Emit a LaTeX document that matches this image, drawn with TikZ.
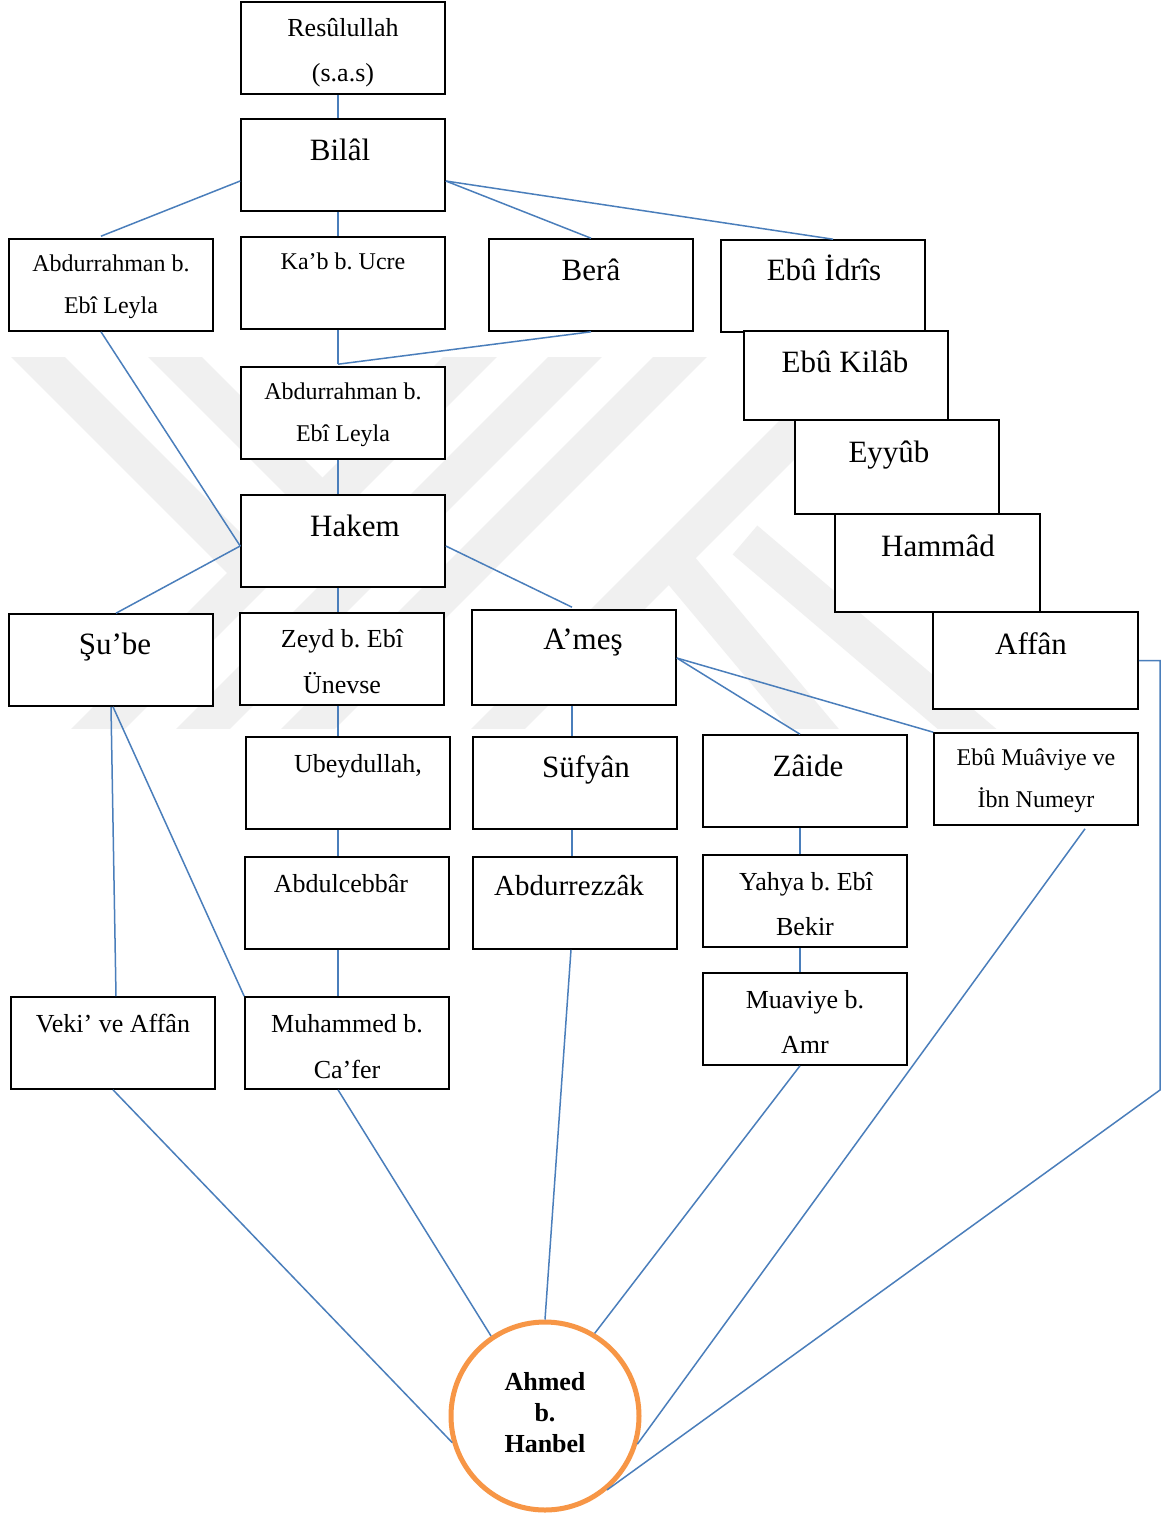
\documentclass[tikz,border=0pt]{standalone}
\usepackage{fontspec}
\setmainfont{Liberation Serif}
\frenchspacing
\definecolor{conblue}{RGB}{74,126,187}
\definecolor{ringorange}{RGB}{247,150,70}
\definecolor{wmgray}{RGB}{240,240,240}
\newcommand\fntL{\fontsize{31}{31}\selectfont}
\newcommand\fntA{\fontsize{29}{29}\selectfont}
\newcommand\fntM{\fontsize{26}{26}\selectfont}
\newcommand\fntS{\fontsize{24}{24}\selectfont}
\tikzset{
  box/.style={draw=black, fill=white, line width=1.6pt, minimum width=204pt, minimum height=92pt, inner sep=0pt},
  txt/.style={inner sep=0pt, anchor=base},
  con/.style={draw=conblue, line width=1.5pt},
  wm/.style={draw=wmgray, line width=38pt, line cap=butt},
  ring/.style={circle, draw=ringorange, fill=white, line width=5pt, minimum size=188pt, inner sep=0pt}
}
\begin{document}
\frenchspacing
\begin{tikzpicture}[x=1pt,y=-1pt]
\useasboundingbox (0,0) rectangle (1166,1515);
\fill[white] (0,0) rectangle (1166,1515);
% watermark
\begin{scope}
\clip (0,357) rectangle (1000,728);
\draw[wm] (495,332) -- (74,753);
\draw[wm] (600,332) -- (179,753);
\draw[wm] (705,332) -- (284,753);
\draw[wm] (895,332) -- (474,753);
\draw[wm] (13,332) -- (254,573);
\draw[wm] (150,332) -- (375,557);
\draw[wm] (670,557) -- (840,760);
\draw[wm] (745,540) -- (1000,757);
\end{scope}
% boxes
\node[box] (res) at (343,48) {};
\node[box] (bilal) at (343,165) {};
\node[box] (abdL) at (111,285) {};
\node[box] (kab) at (343,283) {};
\node[box] (bera) at (591,285) {};
\node[box] (idris) at (823,286) {};
\node[box, minimum height=89pt] (kilab) at (846,375.5) {};
\node[box, minimum height=94pt] (eyyub) at (897,467) {};
\node[box, minimum width=205pt, minimum height=98pt] (hammad) at (937.5,563) {};
\node[box, minimum width=205pt, minimum height=97pt] (affan) at (1035.5,660.5) {};
\node[box] (abdM) at (343,413) {};
\node[box] (hakem) at (343,541) {};
\node[box] (sube) at (111,660) {};
\node[box] (zeyd) at (342,659) {};
\node[box, minimum height=95pt] (ames) at (574,657.5) {};
\node[box] (ubey) at (348,783) {};
\node[box] (sufyan) at (575,783) {};
\node[box] (zaide) at (805,781) {};
\node[box] (ebum) at (1036,779) {};
\node[box] (abdc) at (347,903) {};
\node[box] (abdr) at (575,903) {};
\node[box] (yahya) at (805,901) {};
\node[box] (muav) at (805,1019) {};
\node[box] (veki) at (113,1043) {};
\node[box] (muh) at (347,1043) {};
\node[ring] (ahmed) at (545,1416) {};
% texts
\node[txt] (t1) at (343,36) {\fntM Resûlullah};
\node[txt] (t2) at (343,81) {\fntM (s.a.s)};
\node[txt] (t3) at (340,160) {\fntL Bilâl};
\node[txt] (t4) at (111,271) {\fntS Abdurrahman b.};
\node[txt] (t5) at (111,313) {\fntS Ebî Leyla};
\node[txt] (t6) at (343,269) {\fntS Ka’b b. Ucre};
\node[txt] (t7) at (591,280) {\fntL Berâ};
\node[txt] (t8) at (824,280) {\fntL Ebû İdrîs};
\node[txt] (t9) at (845,372) {\fntL Ebû Kilâb};
\node[txt] (t10) at (889,462) {\fntL Eyyûb};
\node[txt] (t11) at (938,556) {\fntL Hammâd};
\node[txt] (t12) at (1031,654) {\fntL Affân};
\node[txt] (t13) at (343,399) {\fntS Abdurrahman b.};
\node[txt] (t14) at (343,441) {\fntS Ebî Leyla};
\node[txt] (t15) at (355,536) {\fntL Hakem};
\node[txt] (t16) at (115,654) {\fntL Şu’be};
\node[txt] (t17) at (342,647) {\fntM Zeyd b. Ebî};
\node[txt] (t18) at (342,693) {\fntM Ünevse};
\node[txt] (t19) at (583,649) {\fntL A’meş};
\node[txt] (t20) at (358,772) {\fntM Ubeydullah,};
\node[txt] (t21) at (586,777) {\fntL Süfyân};
\node[txt] (t22) at (808,776) {\fntL Zâide};
\node[txt] (t23) at (1036,765) {\fntS Ebû Muâviye ve};
\node[txt] (t24) at (1036,807) {\fntS İbn Numeyr};
\node[txt] (t25) at (341,892) {\fntM Abdulcebbâr};
\node[txt] (t26) at (569,895) {\fntA Abdurrezzâk};
\node[txt] (t27) at (806,890) {\fntM Yahya b. Ebî};
\node[txt] (t28) at (805,935) {\fntM Bekir};
\node[txt] (t29) at (805,1008) {\fntM Muaviye b.};
\node[txt] (t30) at (805,1053) {\fntM Amr};
\node[txt] (t31) at (113,1032) {\fntM Veki’ ve Affân};
\node[txt] (t32) at (347,1032) {\fntM Muhammed b.};
\node[txt] (t33) at (347,1078) {\fntM Ca’fer};
\node[txt] (t34) at (545,1390) {\fntM\bfseries Ahmed};
\node[txt] (t35) at (545,1421) {\fntM\bfseries b.};
\node[txt] (t36) at (545,1452) {\fntM\bfseries Hanbel};
% connectors
\coordinate (bend) at (1160,1090);
\draw[con] ([xshift=-5pt]res.south) -- ([xshift=-5pt]bilal.north);
\draw[con] ([yshift=-16pt]bilal.west) -- ([xshift=-10pt,yshift=2pt]abdL.north);
\draw[con] ([xshift=-5pt]bilal.south) -- ([xshift=-5pt]kab.north);
\draw[con] ([yshift=-16pt]bilal.east) -- (bera.north);
\draw[con] ([yshift=-16pt]bilal.east) -- ([xshift=10pt]idris.north);
\draw[con] ([xshift=-5pt]kab.south) -- ([xshift=-5pt,yshift=2pt]abdM.north);
\draw[con] (bera.south) -- ([xshift=-5pt,yshift=2pt]abdM.north);
\draw[con] ([xshift=-5pt]abdM.south) -- ([xshift=-5pt]hakem.north);
\draw[con] ([xshift=-10pt]abdL.south) -- ([yshift=-5pt]hakem.west);
\draw[con] ([yshift=-5pt]hakem.west) -- ([xshift=5pt]sube.north);
\draw[con] ([xshift=-5pt]hakem.south) -- ([xshift=-4pt]zeyd.north);
\draw[con] ([yshift=-5pt]hakem.east) -- ([xshift=-2pt,yshift=2pt]ames.north);
\draw[con] ([xshift=-4pt]zeyd.south) -- ([xshift=-10pt]ubey.north);
\draw[con] ([xshift=-2pt]ames.south) -- ([xshift=-3pt]sufyan.north);
\draw[con] ([yshift=-0.5pt]ames.east) -- ([xshift=-5pt]zaide.north);
\draw[con] ([yshift=-0.5pt]ames.east) -- (ebum.north west);
\draw[con] (sube.south) -- ([xshift=3pt]veki.north);
\draw[con] ([xshift=2pt]sube.south) -- (muh.north west);
\draw[con] ([xshift=-10pt]ubey.south) -- ([xshift=-9pt]abdc.north);
\draw[con] ([xshift=-3pt]sufyan.south) -- ([xshift=-3pt]abdr.north);
\draw[con] ([xshift=-5pt]zaide.south) -- ([xshift=-5pt]yahya.north);
\draw[con] ([xshift=-5pt]yahya.south) -- ([xshift=-5pt]muav.north);
\draw[con] ([xshift=-9pt]abdc.south) -- ([xshift=-9pt]muh.north);
\draw[con] (veki.south) -- (ahmed.196);
\draw[con] ([xshift=-9pt]muh.south) -- (ahmed.124);
\draw[con] ([xshift=-4pt]abdr.south) -- (ahmed.north);
\draw[con] ([xshift=-5pt]muav.south) -- (ahmed.59);
\draw[con] ([xshift=49pt,yshift=-3pt]ebum.south) -- (ahmed.343);
\draw[con] (affan.east) -| (bend) -- (ahmed.310);
\end{tikzpicture}
\end{document}
